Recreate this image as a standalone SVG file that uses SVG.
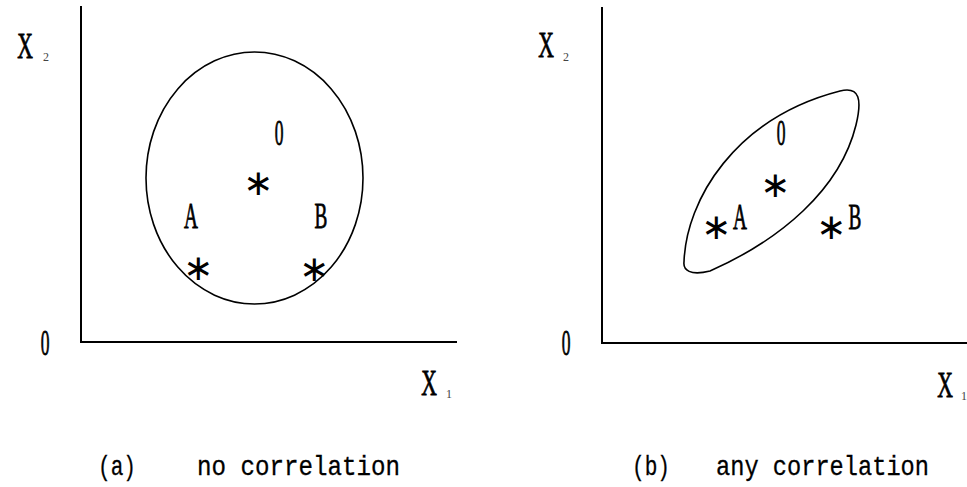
<svg xmlns="http://www.w3.org/2000/svg" width="967" height="487" viewBox="0 0 967 487">
<style>
.axis{stroke:#000;stroke-width:2;fill:none}
.shape{stroke:#000;stroke-width:1.6;fill:none}
.lbl{font-family:"Liberation Serif",serif;font-size:35px;fill:#000;stroke:#000;stroke-width:0.8;text-anchor:middle}
.sub{font-family:"Liberation Serif",serif;font-size:12px;fill:#444;text-anchor:middle}
.ast{font-family:"DejaVu Sans",sans-serif;font-size:36px;fill:#000;text-anchor:middle}
.cap{font-family:"Liberation Mono",monospace;font-size:28px;fill:#000;stroke:#000;stroke-width:0.3}
</style>
<rect width="967" height="487" fill="#fff"/>
<g id="panel-a">
  <g id="axes-a">
    <path class="axis" d="M81 6 V342 H457"/>
  </g>
  <g id="ellipse-a">
    <ellipse class="shape" cx="254.5" cy="178" rx="108.5" ry="126"/>
  </g>
  <g id="labels-a">
    <text class="lbl" transform="translate(25,58) scale(0.62,1)">X</text>
    <text class="sub" x="46" y="61">2</text>
    <text class="lbl" transform="translate(45,355) scale(0.5,1)">0</text>
    <text class="lbl" transform="translate(429,395) scale(0.62,1)">X</text>
    <text class="sub" x="449" y="398">1</text>
    <text class="lbl" transform="translate(279,145) scale(0.5,1)">0</text>
    <text class="lbl" transform="translate(191,228) scale(0.55,1)">A</text>
    <text class="lbl" transform="translate(321,228) scale(0.55,1)">B</text>
  </g>
  <g id="points-a">
    <text class="ast" x="258" y="195">∗</text>
    <text class="ast" x="198" y="280">∗</text>
    <text class="ast" x="314" y="281">∗</text>
  </g>
  <text class="cap" x="98" y="475" textLength="38" lengthAdjust="spacingAndGlyphs">(a)</text>
  <text class="cap" x="197" y="475" textLength="203" lengthAdjust="spacingAndGlyphs">no correlation</text>
</g>
<g id="panel-b">
  <g id="axes-b">
    <path class="axis" d="M602 7 V343 H967"/>
  </g>
  <g id="ellipse-b">
    <path class="shape" d="M684 262 C686 200 735 118 840 91 C860 86 862 100 856 125 C840 190 780 240 710 271 C690 276 683 270 684 262 Z"/>
  </g>
  <g id="labels-b">
    <text class="lbl" transform="translate(546,57) scale(0.62,1)">X</text>
    <text class="sub" x="566" y="61">2</text>
    <text class="lbl" transform="translate(566,355) scale(0.5,1)">0</text>
    <text class="lbl" transform="translate(945,397) scale(0.62,1)">X</text>
    <text class="sub" x="964" y="400">1</text>
    <text class="lbl" transform="translate(781,145) scale(0.5,1)">0</text>
    <text class="lbl" transform="translate(740,229) scale(0.55,1)">A</text>
    <text class="lbl" transform="translate(855,229) scale(0.55,1)">B</text>
  </g>
  <g id="points-b">
    <text class="ast" x="775" y="197">∗</text>
    <text class="ast" x="716" y="239">∗</text>
    <text class="ast" x="831" y="239">∗</text>
  </g>
  <text class="cap" x="632" y="475" textLength="38" lengthAdjust="spacingAndGlyphs">(b)</text>
  <text class="cap" x="716" y="475" textLength="213" lengthAdjust="spacingAndGlyphs">any correlation</text>
</g>
</svg>
